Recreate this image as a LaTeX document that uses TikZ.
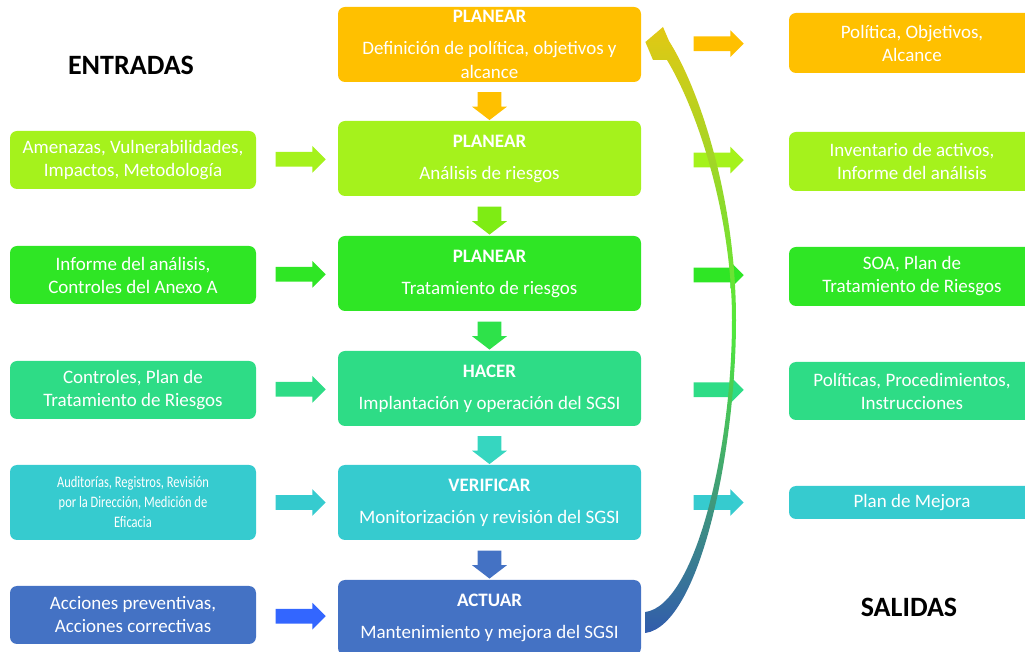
\documentclass[tikz,border=0pt]{standalone}
\usepackage{fontspec}
\setmainfont{Carlito}
\newfontfamily\estrecha[FakeStretch=0.78]{Carlito}
\usetikzlibrary{shapes.arrows}
\definecolor{planear}{RGB}{255,192,0}
\definecolor{analisis}{RGB}{165,242,28}
\definecolor{tratamiento}{RGB}{47,230,37}
\definecolor{hacer}{RGB}{46,220,134}
\definecolor{verificar}{RGB}{54,203,207}
\definecolor{actuar}{RGB}{68,114,196}
\definecolor{actuarin}{RGB}{51,102,255}
\definecolor{bajaA}{RGB}{126,236,20}
\definecolor{bajaB}{RGB}{46,226,74}
\definecolor{bajaC}{RGB}{54,214,192}
\definecolor{cicloA}{RGB}{226,200,20}
\definecolor{cicloB}{RGB}{80,232,60}
\definecolor{cicloC}{RGB}{50,92,172}
\tikzstyle{fase}=[rounded corners=3.5pt, minimum width=151.5pt, minimum height=37.5pt, inner sep=0pt, text=white, align=center, font=\fontsize{9.5}{12}\selectfont]
\tikzstyle{caja}=[rounded corners=3.5pt, minimum width=123pt, minimum height=29pt, inner sep=0pt, text=white, align=center, font=\fontsize{9.5}{11.5}\selectfont]
\tikzstyle{titulo}=[font=\fontsize{14}{17}\selectfont\bfseries]
\tikzstyle{flecha}=[single arrow, single arrow head extend=3pt, inner xsep=0pt, inner ysep=3.5pt, minimum width=13pt, minimum height=25pt]
\tikzstyle{baja}=[single arrow, single arrow head extend=2.75pt, single arrow tip angle=105, inner xsep=0pt, inner ysep=5.75pt, minimum width=17pt, minimum height=14pt, rotate=-90]

\begin{document}
\begin{tikzpicture}[x=0.5pt,y=-0.5pt]
  \useasboundingbox (0,0) rectangle (1025,652);
  \draw (131,65) node[titulo] (E) {ENTRADAS};
  \draw (909,607) node[titulo] (S) {SALIDAS};

  %% Fases
  \draw (489.5,44.5) node[fase,fill=planear] (P1) {\textbf{PLANEAR}\\[4pt]Definición de política, objetivos y\\alcance};
  \draw (489.5,158.5) node[fase,fill=analisis] (P2) {\textbf{PLANEAR}\\[4pt]Análisis de riesgos};
  \draw (489.5,273.5) node[fase,fill=tratamiento] (P3) {\textbf{PLANEAR}\\[4pt]Tratamiento de riesgos};
  \draw (489.5,388.5) node[fase,fill=hacer] (P4) {\textbf{HACER}\\[4pt]Implantación y operación del SGSI};
  \draw (489.5,502.5) node[fase,fill=verificar] (P5) {\textbf{VERIFICAR}\\[4pt]Monitorización y revisión del SGSI};
  \draw (489.5,617.5) node[fase,fill=actuar] (P6) {\textbf{ACTUAR}\\[4pt]Mantenimiento y mejora del SGSI};

  %% Entradas
  \draw (133,160) node[caja,fill=analisis] (L2) {Amenazas, Vulnerabilidades,\\Impactos, Metodología};
  \draw (133,275) node[caja,fill=tratamiento] (L3) {Informe del análisis,\\Controles del Anexo A};
  \draw (133,390) node[caja,fill=hacer] (L4) {Controles, Plan de\\Tratamiento de Riesgos};
  \draw (133,502.5) node[caja,fill=verificar,minimum height=37.5pt,font=\estrecha\fontsize{8}{10}\selectfont] (L5) {Auditorías, Registros, Revisión\\por la Dirección, Medición de\\Eficacia};
  \draw (133,615) node[caja,fill=actuar] (L6) {Acciones preventivas,\\Acciones correctivas};

  %% Salidas
  \draw (912,43) node[caja,fill=planear,minimum height=30pt] (R1) {Política, Objetivos,\\Alcance};
  \draw (912,161.5) node[caja,fill=analisis,minimum height=29.5pt] (R2) {Inventario de activos,\\Informe del análisis};
  \draw (912,276.5) node[caja,fill=tratamiento,minimum height=29.5pt] (R3) {SOA, Plan de\\Tratamiento de Riesgos};
  \draw (912,391) node[caja,fill=hacer] (R4) {Políticas, Procedimientos,\\Instrucciones};
  \draw (912,502.5) node[caja,fill=verificar,minimum height=16.5pt] (R5) {Plan de Mejora};

  \path (L2) -- node[flecha,fill=analisis] {} (P2);
  \path (L3) -- node[flecha,fill=tratamiento] {} (P3);
  \path (L4) -- node[flecha,fill=hacer] {} (P4);
  \path (L5) -- node[flecha,fill=verificar] {} (P5);
  \path (L6) -- node[flecha,fill=actuarin] {} (P6);

  \path (P1) -- node[flecha,fill=planear] {} (R1);
  \path (P2) -- node[flecha,fill=analisis] {} (R2);
  \path (P3) -- node[flecha,fill=tratamiento] {} (R3);
  \path (P4) -- node[flecha,fill=hacer] {} (R4);
  \path (P5) -- node[flecha,fill=verificar] {} (R5);

  \path (P1) -- node[baja,fill=planear] {} (P2);
  \path (P2) -- node[baja,fill=bajaA] {} (P3);
  \path (P3) -- node[baja,fill=bajaB] {} (P4);
  \path (P4) -- node[baja,fill=bajaC] {} (P5);
  \path (P5) -- node[baja,fill=actuar] {} (P6);

  %% Ciclo
  \coordinate (colaA) at ([shift={(4,-5.5)}]P6.east);
  \coordinate (colaB) at ([shift={(4,15.5)}]P6.east);
  \coordinate (punta) at ([shift={(4,-2.5)}]P1.east);
  \shade[top color=cicloA,bottom color=cicloC,middle color=cicloB] (colaB) .. controls (700,625) and (736,450) .. (736,320) .. controls (736,200) and (700,90) .. (669,41) -- (663,27) -- (punta) -- (653,60) -- (667,60) .. controls (700,115) and (732,220) .. (732,320) .. controls (732,450) and (695,605) .. (colaA) -- cycle;
\end{tikzpicture}
\end{document}
